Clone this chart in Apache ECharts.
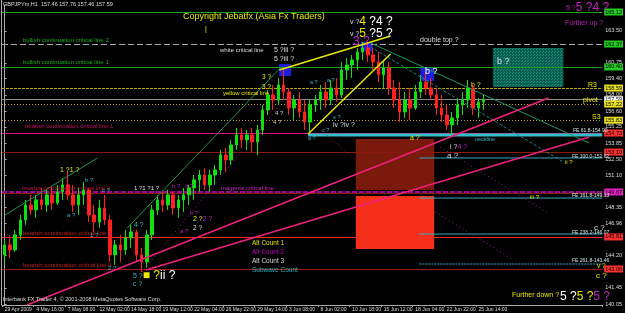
<!DOCTYPE html>
<html><head><meta charset="utf-8">
<script src="https://cdn.jsdelivr.net/npm/echarts@6/dist/echarts.min.js"></script>
<style>html,body{margin:0;padding:0;background:#000;}#c{width:625px;height:313px;}</style>
</head><body><div id="c"></div>
<script>
// ---- data ----
const dateTicks = ['29 Apr 2009','4 May 16:00','7 May 08:00','12 May 02:00','14 May 18:00','19 May 12:00','22 May 04:00','26 May 22:00','29 May 14:00','3 Jun 08:00','8 Jun 02:00','10 Jun 18:00','15 Jun 12:00','18 Jun 04:00','22 Jun 22:00','25 Jun 14:00'];
const opens = [144.27,145.13,144.70,145.99,147.27,148.56,148.13,148.99,148.56,149.42,
148.73,149.68,150.28,149.42,148.56,149.42,149.85,147.70,147.10,148.30,
147.27,144.27,145.13,144.70,145.73,146.24,144.27,143.67,145.99,148.13,
148.99,148.56,149.42,148.30,148.99,149.42,150.02,150.71,151.13,150.28,
151.13,151.56,152.85,152.42,153.71,154.57,154.14,154.57,153.97,155.00,
156.71,158.00,157.57,158.86,158.26,156.88,157.57,156.54,155.68,157.14,
157.57,158.26,157.57,158.60,158.00,160.14,160.57,161.00,161.69,162.03,
161.43,160.83,159.72,160.32,158.60,157.57,156.54,157.57,156.88,158.26,
159.11,158.60,158.00,156.88,156.28,155.43,156.03,157.14,157.57,158.60,
156.88,157.40];
const closes = [145.13,144.70,145.99,147.27,148.56,148.13,148.99,148.56,149.42,148.73,
149.68,150.28,149.42,148.56,149.42,149.85,147.70,147.10,148.30,147.27,
144.27,145.13,144.70,145.73,146.24,144.27,143.67,145.99,148.13,148.99,
148.56,149.42,148.30,148.99,149.42,150.02,150.71,151.13,150.28,151.13,
151.56,152.85,152.42,153.71,154.57,154.14,154.57,153.97,155.00,156.71,
158.00,157.57,158.86,158.26,156.88,157.57,156.54,155.68,157.14,157.57,
158.26,157.57,158.60,158.00,160.14,160.57,161.00,161.69,162.03,161.43,
160.83,159.72,160.32,158.60,157.57,156.54,157.57,156.88,158.26,159.11,
158.60,158.00,156.88,156.28,155.43,156.03,157.14,157.57,158.60,156.88,
157.40,157.59];
const lows = [143.67,144.01,144.53,145.56,146.85,147.70,147.45,148.13,147.96,148.13,
148.56,148.99,148.99,147.96,147.70,148.56,147.10,146.24,146.59,146.85,
143.67,143.41,143.67,144.27,144.87,143.67,142.81,143.16,145.56,147.70,
147.96,148.13,147.70,147.45,147.96,148.56,148.99,149.68,149.85,149.68,
150.28,151.13,151.39,151.99,153.28,153.45,153.28,153.11,152.85,154.57,
156.28,156.71,157.14,157.57,156.28,155.85,156.03,155.00,154.74,156.54,
156.71,156.88,157.14,157.40,157.74,159.29,159.46,160.14,161.00,160.83,
160.14,159.11,158.60,158.00,156.88,155.68,156.03,155.85,156.71,157.74,
158.00,157.57,156.28,155.68,155.00,154.57,155.43,156.28,156.88,156.28,
156.03,156.71];
const highs = [145.56,145.99,146.42,147.70,148.99,149.42,149.42,150.02,149.85,150.19,
150.28,150.88,151.39,150.28,150.02,150.53,150.02,148.56,148.99,149.42,
147.70,145.56,145.99,146.42,146.85,146.42,144.87,146.42,148.56,149.42,
149.68,149.85,149.68,149.42,150.02,150.28,151.13,151.56,151.74,151.56,
151.99,153.28,153.45,154.14,155.17,155.17,155.00,155.17,155.43,157.14,
158.43,158.86,159.46,160.32,158.60,158.00,158.26,157.57,157.57,158.00,
158.86,159.11,159.29,159.46,160.83,161.17,161.43,162.03,162.55,162.55,
162.03,161.69,161.00,160.83,159.29,159.11,158.26,158.60,158.86,159.72,
159.97,159.46,158.60,158.00,157.14,156.54,157.74,158.26,159.29,158.86,
157.74,158.00];
const priceTicks = [140.05,141.45,144.20,146.96,148.35,151.10,152.50,153.85,155.25,156.60,158.00,159.40,160.75,163.50];
// horizontal levels (price)
const levelValues = [165.12,162.37,160.40,158.59,157.59,157.22,155.83,154.73,153.10,149.67,149.58,145.81,143.06];
// fibonacci expansion levels: [start bar, price]
const feStarts = [57.64,78.77,78.77,78.77,78.77];
const feValues = [154.57,152.59,149.15,146.06,143.49];
const feTexts = ['FE 61.8-154.90','FE 100.0-152.62','FE 161.8-149.13','FE 238.2-146.07','FE 261.8-143.46'];
// trendlines: [[bar, price],[bar, price]]
const trendLines = [
  [[52.16,160.14],[73.30,163.06]],
  [[57.64,154.65],[73.30,161.51]],
  [[0.07,147.69],[17.62,152.59]],
  [[23.28,146.58],[52.35,160.31]],
  [[69.53,162.46],[111.05,153.87]],
  [[69.53,162.11],[106.14,152.24]],
  [[4.22,139.97],[103.31,157.74]],
  [[26.87,142.97],[111.05,154.39]],
  [[26.11,142.80],[53.86,157.99]],
  [[53.86,157.57],[66.51,152.41]],
  [[82.74,153.53],[102.93,147.95]],
  [[81.80,147.95],[96.70,143.83]]
];
// zones: [bar0, bar1, priceTop, priceBottom]
const zones = [
  [66.7,81.6,154.22,149.84],
  [66.7,81.6,149.32,144.77],
  [92.74,106.14,162.03,158.68],
  [52.16,54.4,160.65,159.63],
  [67.64,69.9,162.54,161.77],
  [78.96,81.6,160.31,159.20]
];

// ---- styles ----
const NCAT = 114;
const categories = [];
for (let i = 0; i < NCAT; i++) categories.push(i % 6 === 0 && i / 6 < dateTicks.length ? dateTicks[i / 6] : '');
const candleData = opens.map((o, i) => [o, closes[i], lows[i], highs[i]]);

const levelStyles = [
  {c:'#1aa01a', t:'solid', w:1, tag:'#22cc22'},
  {c:'#aaaaaa', t:[6,3], w:1, tag:'#22cc22'},
  {c:'#1aa01a', t:'solid', w:1, tag:'#22cc22'},
  {c:'#b8a800', t:[3,1], w:1, tag:'#e8e020'},
  {c:'#8a8a8a', t:'solid', w:1, tag:'#ffffff'},
  {c:'#b8a800', t:[1,2], w:1, tag:'#e8e020'},
  {c:'#b8a800', t:[1,2], w:1, tag:'#e8e020'},
  {c:'#e0108a', t:'solid', w:1, tag:'#ff3030'},
  {c:'#8a1a10', t:'solid', w:1, tag:'#ff3030'},
  {c:'#a000a0', t:[5,2], w:2, tag:'#e020c0'},
  {c:'#8a1a10', t:'solid', w:1, tag:null},
  {c:'#ff2a20', t:'solid', w:1, tag:'#ff3030'},
  {c:'#a01a10', t:'solid', w:1, tag:'#ff3030'}
];
const markLines = levelValues.map((v, i) => {
  const s = levelStyles[i];
  return {
    yAxis: v,
    lineStyle: {color: s.c, type: s.t, width: s.w},
    label: s.tag ? {show: true, position: 'end', distance: 2, formatter: v.toFixed(2),
      backgroundColor: s.tag, color: '#000', fontSize: 5.5, fontFamily: 'Liberation Sans', padding: [1, 1, 0, 1]} : {show: false}
  };
});

const trendStyles = [
  {c:'#e8e800', w:1.5, t:'solid'},
  {c:'#e8e800', w:1.5, t:'solid'},
  {c:'#1a9a50', w:1, t:'solid'},
  {c:'#1a9a50', w:1, t:'solid'},
  {c:'#1a9a60', w:1, t:'solid'},
  {c:'#1a8a8a', w:1, t:[3,2]},
  {c:'#f0207e', w:1.5, t:'solid'},
  {c:'#f0207e', w:1.5, t:'solid'},
  {c:'#a020a0', w:1, t:[1,3]},
  {c:'#b02020', w:1, t:[1,3]},
  {c:'#a020a0', w:1, t:[1,3]},
  {c:'#a020a0', w:1, t:[1,3]}
];

const pat = document.createElement('canvas');
pat.width = 3; pat.height = 3;
const pctx = pat.getContext('2d');
pctx.fillStyle = '#0a5a55'; pctx.fillRect(0, 0, 3, 3);
pctx.fillStyle = '#189a68'; pctx.fillRect(0, 0, 1, 1); pctx.fillRect(2, 1, 1, 1);
const zoneFills = ['#7a1a0c', '#f5301a', {image: pat, repeat: 'repeat'}, '#1e1ee0', '#1e1ee0', '#1e1ee0'];

const series = [];
series.push({
  type: 'custom', xAxisIndex: 1, yAxisIndex: 0, z: 1, silent: true,
  data: zones, encode: {x: [0, 1], y: [2, 3]},
  renderItem: (params, api) => {
    const a = api.coord([api.value(0), api.value(2)]);
    const b = api.coord([api.value(1), api.value(3)]);
    return {type: 'rect', shape: {x: a[0], y: a[1], width: b[0] - a[0], height: b[1] - a[1]},
      style: {fill: zoneFills[params.dataIndex]}};
  }
});
series.push({
  type: 'candlestick', xAxisIndex: 0, yAxisIndex: 0, z: 3, data: candleData, barWidth: 3,
  itemStyle: {color: '#10e010', color0: '#ff2020', borderColor: '#10e010', borderColor0: '#ff2020', borderWidth: 1},
  markLine: {symbol: ['none', 'none'], silent: true, animation: false, z: 2, data: markLines}
});
feValues.forEach((v, i) => {
  series.push({type: 'line', xAxisIndex: 1, yAxisIndex: 0, z: 2, showSymbol: false, silent: true,
    data: [[feStarts[i], v], [113.5, v]],
    lineStyle: {color: i === 0 ? '#30c0c8' : '#3aa8b8', width: i === 0 ? 3 : 1, type: i === 4 ? [2, 1] : 'solid'}});
});
trendLines.forEach((pts, i) => {
  const s = trendStyles[i];
  series.push({type: 'line', xAxisIndex: 1, yAxisIndex: 0, z: 4, showSymbol: false, silent: true,
    data: pts, lineStyle: {color: s.c, width: s.w, type: s.t}});
});

// ---- text annotations (pixel positions) ----
const F = 'Liberation Sans';
const texts = [
  [3,4,'GBPJPYm,H1  157.46 157.76 157.46 157.59','#dddddd',5.5],
  [183,17,'Copyright Jebatfx (Asia Fx Traders)','#e8e800',9],
  [205,29,'|','#e8e800',7],
  [220,50,'white critical line','#dddddd',6],
  [274,50,'5 ?iii ?','#dddddd',7],
  [274,59,'5 ?iii ?','#dddddd',7],
  [262,77,'3 ?','#e8e800',6.5],
  [262,87,'3 ?','#e8e800',6.5],
  [223,93,'yellow critical line','#e8e800',6],
  [310,82,'a ?','#30b8c8',5.5],
  [327,80,'a ?','#30b8c8',5.5],
  [275,113,'4 ?','#cccccc',6],
  [273,122,'4 ?','#cccccc',6],
  [333,117,'e ?','#30b8c8',5.5],
  [322,130,'c ?','#30b8c8',5.5],
  [333,125,'iv ?iv ?','#dddddd',7],
  [308,138,'a ?','#30b8c8',5.5],
  [410,138,'a ?','#e8e800',7],
  [475,139,'neckline','#30b8c8',5.5],
  [447,156,'a ?','#dddddd',8],
  [565,162,'ii ?','#e8e800',6],
  [530,197,'iii ?','#e8e800',6],
  [594,228,'c ?','#dddddd',8],
  [597,266,'v ?','#e8e800',6.5],
  [596,276,'c ?','#e8e800',8],
  [512,295,'Further down ?','#e8e800',7],
  [565,23,'Further up ?','#c020c0',7],
  [420,40,'double top ?','#dddddd',7],
  [425,72,'b ?','#ffffff',9],
  [497,62,'b ?','#dddddd',9],
  [471,85,'b ?','#e8e800',7],
  [588,85,'R3','#e8e800',7],
  [583,100,'pivot','#e8e800',7],
  [592,117,'S3','#e8e800',7],
  [23,40,'bullish continuation critical line 2','#12b012',6],
  [23,62,'bullish continuation critical line 1','#12b012',6],
  [25,126,'bearish continuation critical line 1','#c01060',6],
  [22,188,'bearish continuation critical line 2','#b01040',6],
  [23,233,'bearish continuation critical line 3','#c02020',6],
  [23,265,'bearish continuation critical line 4','#c02020',6],
  [221,188,'magenta critical line','#c020c0',6],
  [60,170,'1 ?1 ?','#e8e800',7],
  [85,180,'b ?','#30b8c8',6],
  [102,190,'c ?','#30b8c8',6],
  [134,188,'1 ?1 ?1 ?','#dddddd',6],
  [172,186,'b ?','#c020c0',6],
  [185,186,'d ?','#c020c0',6],
  [67,215,'a ?','#30b8c8',6],
  [90,235,'1 ?','#30b8c8',6],
  [134,225,'4 ?','#30b8c8',7],
  [108,268,'2 ?','#30b8c8',6],
  [133,284,'c ?','#30b8c8',7],
  [190,213,'b ?','#c020c0',6],
  [193,228,'2 ?','#dddddd',6.5],
  [180,231,'a ?','#c020c0',6],
  [252,243,'Alt Count 1','#e0e000',6.5],
  [252,252,'Alt Count 2','#c000c0',6.5],
  [252,261,'Alt Count 3','#dddddd',6.5],
  [252,270,'Subwave Count','#20b0c0',6.5],
  [3,299,'Interbank FX Trader 4, \u00a9 2001-2008 MetaQuotes Software Corp.','#dddddd',5.5],
  [573,131,feTexts[0],'#cfe8ee',5],
  [572,157,feTexts[1],'#cfe8ee',5],
  [572,196,feTexts[2],'#cfe8ee',5],
  [572,233,feTexts[3],'#cfe8ee',5],
  [572,261,feTexts[4],'#cfe8ee',5]
];
const richTexts = [
  [350,22,'{s|v ?}{y|4 }{w|?4 ?}'],
  [350,34,'{s|v ?}{y|5 }{w|?5 ?}'],
  [353,42,'{p|3 ?}'],
  [450,147,'{ws|i ?}{ps|4 ?}'],
  [133,276,'{c|5 ?}{y|\u25a0 ?}{w|ii ?}'],
  [193,219,'{ys|2 ?}{ps|2 ?}'],
  [560,297,'{w|5 ?}{y|5 ?}{p|5 ?}'],
  [566,8,'{ps|5 ?}{p|5 ?4 ?}']
];
const rich = {
  s: {fill: '#dddddd', fontSize: 7, fontFamily: F},
  y: {fill: '#e8e800', fontSize: 12, fontFamily: F},
  w: {fill: '#ffffff', fontSize: 12, fontFamily: F},
  p: {fill: '#c020c0', fontSize: 12, fontFamily: F},
  c: {fill: '#30b8c8', fontSize: 7, fontFamily: F},
  ws: {fill: '#dddddd', fontSize: 7, fontFamily: F},
  ys: {fill: '#e8e800', fontSize: 7, fontFamily: F},
  ps: {fill: '#c020c0', fontSize: 7, fontFamily: F}
};
const graphic = [
  {type: 'line', shape: {x1: 1.5, y1: 0, x2: 1.5, y2: 305}, style: {stroke: '#aaaaaa', lineWidth: 1}, z: 50}
];
texts.forEach(t => graphic.push({type: 'text', x: t[0], y: t[1], z: 100, silent: true,
  style: {text: t[2], fill: t[3], fontSize: t[4], fontFamily: F, verticalAlign: 'middle', align: 'left'}}));
richTexts.forEach(t => graphic.push({type: 'text', x: t[0], y: t[1], z: 100, silent: true,
  style: {text: t[2], rich: rich, verticalAlign: 'middle', align: 'left'}}));

const chart = echarts.init(document.getElementById('c'), null, {renderer: 'canvas'});
chart.setOption({
  animation: false,
  backgroundColor: '#000000',
  grid: {left: 2, right: 19, top: 5, bottom: 8, containLabel: false},
  xAxis: [
    {type: 'category', data: categories, boundaryGap: true,
      axisLine: {lineStyle: {color: '#aaaaaa'}},
      axisTick: {show: true, interval: (i) => i % 6 === 0 && i / 6 < dateTicks.length, length: 2, lineStyle: {color: '#aaaaaa'}},
      axisLabel: {interval: 0, align: 'left', color: '#dddddd', fontSize: 5, fontFamily: F, margin: 2, hideOverlap: false},
      splitLine: {show: false}},
    {type: 'value', min: -0.5, max: 113.5, show: false}
  ],
  yAxis: [{type: 'value', position: 'right', min: 139.97, max: 165.72, scale: true,
    axisLine: {show: true, lineStyle: {color: '#aaaaaa'}},
    axisTick: {show: true, length: 2, customValues: priceTicks, lineStyle: {color: '#aaaaaa'}},
    axisLabel: {customValues: priceTicks, formatter: v => v.toFixed(2), color: '#dddddd', fontSize: 5.5, fontFamily: F, margin: 3},
    splitLine: {show: false}}],
  series: series,
  graphic: graphic
});
</script></body></html>
